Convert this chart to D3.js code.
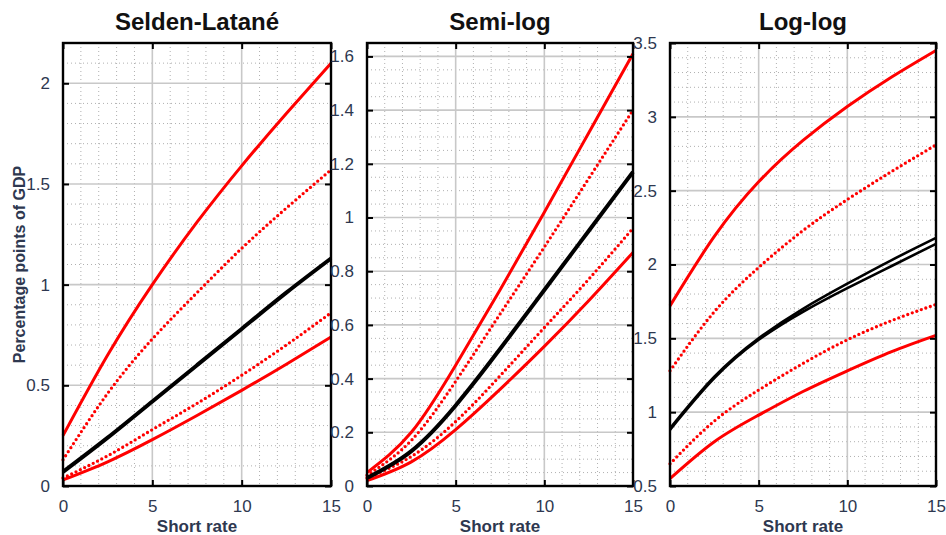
<!DOCTYPE html>
<html>
<head>
<meta charset="utf-8">
<script src="https://cdn.jsdelivr.net/npm/d3@7"></script>
<style>
  body { margin: 0; background: #ffffff; }
  svg { display: block; font-family: Arial, "Liberation Sans", sans-serif; }
</style>
</head>
<body>
<div id="chart"></div>
<script>
// short rate grid shared by every curve
const shortRate = [0, 2.5, 5, 7.5, 10, 12.5, 15];

// Selden-Latané
const seldenUpper       = [0.25, 0.65, 1.00, 1.31, 1.59, 1.85, 2.10];
const seldenUpperDotted = [0.13, 0.46, 0.73, 0.96, 1.18, 1.38, 1.57];
const seldenCentral     = [0.07, 0.24, 0.42, 0.60, 0.78, 0.96, 1.13];
const seldenLowerDotted = [0.04, 0.15, 0.28, 0.41, 0.55, 0.70, 0.86];
const seldenLower       = [0.03, 0.12, 0.23, 0.35, 0.475, 0.605, 0.74];

// Semi-log
const semiUpper       = [0.05, 0.20, 0.45, 0.73, 1.02, 1.315, 1.61];
const semiUpperDotted = [0.04, 0.17, 0.39, 0.64, 0.89, 1.145, 1.40];
const semiCentral     = [0.03, 0.13, 0.30, 0.51, 0.73, 0.95, 1.17];
const semiLowerDotted = [0.03, 0.11, 0.24, 0.41, 0.59, 0.77, 0.96];
const semiLower       = [0.02, 0.09, 0.21, 0.36, 0.52, 0.69, 0.87];

// Log-log
const logUpper       = [1.72, 2.19, 2.56, 2.84, 3.07, 3.27, 3.45];
const logUpperDotted = [1.28, 1.68, 1.98, 2.23, 2.44, 2.63, 2.81];
const logCentralA    = [0.89, 1.24, 1.50, 1.70, 1.87, 2.03, 2.18];
const logCentralB    = [0.88, 1.23, 1.49, 1.68, 1.84, 1.99, 2.14];
const logLowerDotted = [0.65, 0.94, 1.15, 1.33, 1.49, 1.62, 1.73];
const logLower       = [0.55, 0.80, 0.98, 1.14, 1.28, 1.41, 1.52];

// axes
const titles = ["Selden-Latané", "Semi-log", "Log-log"];
const xTicks = [0, 5, 10, 15];
const yTicksSelden = [0, 0.5, 1, 1.5, 2];
const yTicksSemi = [0, 0.2, 0.4, 0.6, 0.8, 1, 1.2, 1.4, 1.6];
const yTicksLog = [0.5, 1, 1.5, 2, 2.5, 3, 3.5];

const W = 946, H = 535
const plotTop = 43, plotBottom = 486

const panels = [
  {title: titles[0], left: 63, right: 331, yDomain: [0, 2.2], yTicks: yTicksSelden, yMinor: 0.1,
   series: [
     {v: seldenUpper, kind: "red"}, {v: seldenLower, kind: "red"},
     {v: seldenUpperDotted, kind: "dot"}, {v: seldenLowerDotted, kind: "dot"},
     {v: seldenCentral, kind: "black"}]},
  {title: titles[1], left: 367, right: 633, yDomain: [0, 1.65], yTicks: yTicksSemi, yMinor: 0.05,
   series: [
     {v: semiUpper, kind: "red"}, {v: semiLower, kind: "red"},
     {v: semiUpperDotted, kind: "dot"}, {v: semiLowerDotted, kind: "dot"},
     {v: semiCentral, kind: "black"}]},
  {title: titles[2], left: 670, right: 936, yDomain: [0.5, 3.5], yTicks: yTicksLog, yMinor: 0.1,
   series: [
     {v: logUpper, kind: "red"}, {v: logLower, kind: "red"},
     {v: logUpperDotted, kind: "dot"}, {v: logLowerDotted, kind: "dot"},
     {v: logCentralA, kind: "thin"}, {v: logCentralB, kind: "thin"}]}
]

const svg = d3.select("#chart")
  .append("svg")
  .attr("width", W)
  .attr("height", H)

const tickColor = "#2e3850"

panels.forEach(p => {
  const x = d3.scaleLinear().domain([0, 15]).range([p.left, p.right])
  const y = d3.scaleLinear().domain(p.yDomain).range([plotBottom, plotTop])
  const g = svg.append("g")

  // minor grid (dotted)
  const xMinor = d3.range(0, 15.001, 1).filter(v => !xTicks.includes(v))
  const yMinor = d3.range(p.yDomain[0], p.yDomain[1] + 1e-6, p.yMinor)
    .filter(v => !p.yTicks.some(t => Math.abs(t - v) < 1e-6))
  g.append("g").selectAll("line").data(xMinor).enter().append("line")
    .attr("x1", d => x(d)).attr("x2", d => x(d)).attr("y1", plotTop).attr("y2", plotBottom)
    .attr("stroke", "#b0b0b0").attr("stroke-width", 1).attr("stroke-dasharray", "1 3")
  g.append("g").selectAll("line").data(yMinor).enter().append("line")
    .attr("x1", p.left).attr("x2", p.right).attr("y1", d => y(d)).attr("y2", d => y(d))
    .attr("stroke", "#b0b0b0").attr("stroke-width", 1).attr("stroke-dasharray", "1 3")

  // major grid
  g.append("g").selectAll("line").data(xTicks).enter().append("line")
    .attr("x1", d => x(d)).attr("x2", d => x(d)).attr("y1", plotTop).attr("y2", plotBottom)
    .attr("stroke", "#c8c8c8").attr("stroke-width", 1.6)
  g.append("g").selectAll("line").data(p.yTicks).enter().append("line")
    .attr("x1", p.left).attr("x2", p.right).attr("y1", d => y(d)).attr("y2", d => y(d))
    .attr("stroke", "#c8c8c8").attr("stroke-width", 1.6)

  // curves
  const line = d3.line()
    .curve(d3.curveNatural)
    .x((d, i) => x(shortRate[i]))
    .y(d => y(d))

  p.series.forEach(s => {
    const path = g.append("path")
      .datum(s.v)
      .attr("fill", "none")
      .attr("d", line)
    if (s.kind === "red") {
      path.attr("stroke", "#ff0000").attr("stroke-width", 3)
    } else if (s.kind === "dot") {
      path.attr("stroke", "#ff0000").attr("stroke-width", 3.3)
        .attr("stroke-linecap", "round").attr("stroke-dasharray", "0 4.8")
    } else if (s.kind === "black") {
      path.attr("stroke", "#000000").attr("stroke-width", 4)
    } else {
      path.attr("stroke", "#000000").attr("stroke-width", 2.6)
    }
  })

  // axes : ticks inside, mirrored on all sides
  const tickLen = 6
  g.append("g")
    .attr("transform", "translate(0," + plotBottom + ")")
    .call(d3.axisBottom(x).tickValues(xTicks).tickSizeInner(-tickLen).tickSizeOuter(0).tickPadding(14).tickFormat(d3.format("d")))
    .call(a => a.select(".domain").remove())
    .call(a => a.selectAll("line").attr("stroke", "#000").attr("stroke-width", 2))
    .call(a => a.selectAll("text").attr("fill", tickColor).style("font-size", "17px"))
  g.append("g")
    .attr("transform", "translate(0," + plotTop + ")")
    .call(d3.axisTop(x).tickValues(xTicks).tickSizeInner(-tickLen).tickSizeOuter(0).tickFormat(""))
    .call(a => a.select(".domain").remove())
    .call(a => a.selectAll("line").attr("stroke", "#000").attr("stroke-width", 2))
  g.append("g")
    .attr("transform", "translate(" + p.left + ",0)")
    .call(d3.axisLeft(y).tickValues(p.yTicks).tickSizeInner(-tickLen).tickSizeOuter(0).tickPadding(13).tickFormat(d => d3.format("")(+d.toFixed(2))))
    .call(a => a.select(".domain").remove())
    .call(a => a.selectAll("line").attr("stroke", "#000").attr("stroke-width", 2))
    .call(a => a.selectAll("text").attr("fill", tickColor).style("font-size", "17px"))
  g.append("g")
    .attr("transform", "translate(" + p.right + ",0)")
    .call(d3.axisRight(y).tickValues(p.yTicks).tickSizeInner(-tickLen).tickSizeOuter(0).tickFormat(""))
    .call(a => a.select(".domain").remove())
    .call(a => a.selectAll("line").attr("stroke", "#000").attr("stroke-width", 2))

  // frame
  g.append("rect")
    .attr("x", p.left).attr("y", plotTop)
    .attr("width", p.right - p.left).attr("height", plotBottom - plotTop)
    .attr("fill", "none").attr("stroke", "#000").attr("stroke-width", 2.4)

  // title + x label
  g.append("text")
    .attr("x", (p.left + p.right) / 2).attr("y", 30)
    .attr("text-anchor", "middle")
    .style("font-size", "24px").style("font-weight", "bold").style("fill", "#111")
    .text(p.title)
  g.append("text")
    .attr("x", (p.left + p.right) / 2).attr("y", 532)
    .attr("text-anchor", "middle")
    .style("font-size", "17px").style("font-weight", "bold").style("fill", tickColor)
    .text("Short rate")
})

// y label
svg.append("text")
  .attr("transform", "translate(25," + (plotTop + plotBottom) / 2 + ") rotate(-90)")
  .attr("text-anchor", "middle")
  .style("font-size", "16px").style("font-weight", "bold").style("fill", tickColor)
  .text("Percentage points of GDP")
</script>
</body>
</html>
